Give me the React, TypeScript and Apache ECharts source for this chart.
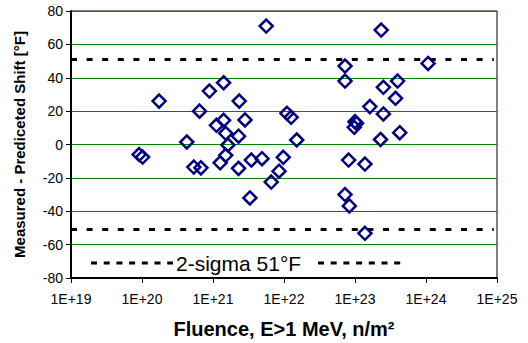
import React, { useEffect, useRef } from "react";
import * as echarts from "echarts";

const fluence: number[] = [
  9.1e19, 1.02e20, 1.74e20, 4.27e20, 6.46e20, 8.9e20, 1.41e21, 1.12e21, 1.41e21, 1.51e21,
  1.62e21, 2.34e21, 2.82e21, 2.29e21, 1.51e21, 1.26e21, 5.37e20, 6.76e20, 2.29e21, 3.47e21,
  4.9e21, 5.62e21, 3.31e21, 6.61e21, 8.51e21, 9.77e21, 1.1e22, 1.26e22, 1.51e22,
  7.24e22, 1.07e24, 7.24e22, 2.34e23, 2.51e23, 3.98e23, 3.72e23, 1.62e23, 2.51e23, 1.0e23,
  1.05e23, 9.77e22, 4.27e23, 2.29e23, 8.13e22, 1.38e23, 7.24e22, 8.32e22, 1.38e23,
];
const shift: number[] = [
  -6, -7.5, 26, 1.5, 20, 32, 37, 11.5, 14.5, 6.7,
  -0.3, 26, 14.7, 5, -6.5, -11, -13.5, -14, -14.3, -9.3,
  -8.5, 71, -32, -22.5, -16, -7.7, 18.7, 16.3, 2.7,
  47, 48.6, 38, 68.6, 34.3, 38, 27.7, 22.7, 18.3, 13.7,
  12.7, 10.3, 7.1, 3, -9.3, -11.7, -30, -36.8, -53.2,
];
const sigma = 51;
const xMin = 1e19;
const xMax = 1e25;
const yTicks: number[] = [-80, -60, -40, -20, 0, 20, 40, 60, 80];
const legendText = "2-sigma 51°F";
const xTitle = "Fluence, E>1 MeV, n/m²";
const yTitle = "Measured - Prediceted Shift [°F]";

export default function App() {
  const ref = useRef<HTMLDivElement>(null);
  useEffect(() => {
    document.body.style.margin = "0";
    if (!ref.current) return;
    const chart = echarts.init(ref.current, null, { renderer: "svg" });
    const pts = fluence.map((f, i) => [f, shift[i]]);
    const font = "Arial, 'Liberation Sans', sans-serif";
    chart.setOption({
      animation: false,
      backgroundColor: "#fff",
      textStyle: { fontFamily: font },
      grid: {
        left: 71,
        right: 31,
        top: 11,
        bottom: 65,
        show: true,
        containLabel: false,
        outerBoundsMode: "none",
        borderColor: "#000",
        borderWidth: 1,
        backgroundColor: "#fff",
      },
      xAxis: {
        type: "log",
        logBase: 10,
        min: xMin,
        max: xMax,
        splitNumber: 6,
        name: xTitle,
        nameLocation: "middle",
        nameGap: 41,
        nameTextStyle: { fontSize: 20, fontWeight: "bold", color: "#000", fontFamily: font },
        axisLine: { show: true, onZero: false, lineStyle: { color: "#000", width: 2 } },
        axisTick: { show: true, inside: false, length: 5, lineStyle: { color: "#000", width: 1 } },
        axisLabel: {
          fontSize: 14,
          color: "#000",
          margin: 14,
          fontFamily: font,
          formatter: (v: number) => "1E+" + Math.round(Math.log10(v)),
        },
        splitLine: { show: false },
        minorTick: { show: false },
        z: 5,
      },
      yAxis: {
        type: "value",
        min: yTicks[0],
        max: yTicks[yTicks.length - 1],
        interval: 20,
        name: yTitle,
        nameLocation: "middle",
        nameGap: 44,
        nameTextStyle: { fontSize: 15, fontWeight: "bold", color: "#000", fontFamily: font },
        axisLine: { show: true, onZero: false, lineStyle: { color: "#000", width: 2 } },
        axisTick: { show: true, inside: false, length: 5, lineStyle: { color: "#000", width: 1 } },
        axisLabel: { fontSize: 14, color: "#000", margin: 8, fontFamily: font },
        splitLine: { show: true, showMinLine: false, lineStyle: { color: "#008000", width: 1 } },
      },
      series: [
        {
          name: "upper",
          type: "line",
          data: [[xMin, sigma], [xMax * 0.9, sigma]],
          showSymbol: false,
          silent: true,
          lineStyle: { color: "#000", width: 3, type: [6, 9.6] },
          z: 3,
        },
        {
          name: "lower",
          type: "line",
          data: [[xMin, -sigma], [xMax * 0.9, -sigma]],
          showSymbol: false,
          silent: true,
          lineStyle: { color: "#000", width: 3, type: [6, 9.6] },
          z: 3,
        },
        {
          name: "data",
          type: "scatter",
          data: pts,
          symbol: "diamond",
          symbolSize: 13,
          itemStyle: {
            color: "rgba(0,0,0,0)",
            borderColor: "#000080",
            borderWidth: 2.5,
            opacity: 1,
          },
          z: 4,
        },
      ],
      graphic: [
        {
          type: "line",
          shape: { x1: 91, y1: 263, x2: 173, y2: 263 },
          style: { stroke: "#000", lineWidth: 3, lineDash: [6, 6.7] },
        },
        {
          type: "line",
          shape: { x1: 318, y1: 263, x2: 402, y2: 263 },
          style: { stroke: "#000", lineWidth: 3, lineDash: [6, 6.7] },
        },
        {
          type: "text",
          x: 176,
          y: 263,
          style: {
            text: legendText,
            fontSize: 21,
            fontFamily: font,
            fill: "#000",
            textVerticalAlign: "middle",
            verticalAlign: "middle",
          },
        },
      ],
    });
    return () => chart.dispose();
  }, []);
  return <div ref={ref} style={{ width: 528, height: 343 }} />;
}
